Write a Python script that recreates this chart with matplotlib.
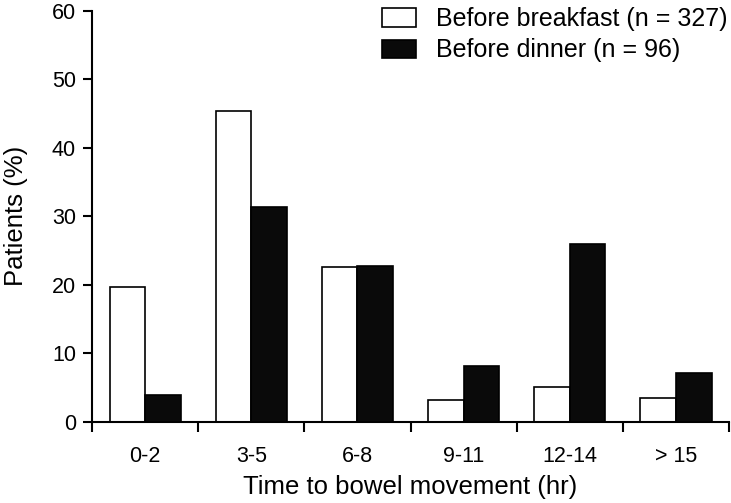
import numpy as np
import matplotlib
matplotlib.use("Agg")
import matplotlib.pyplot as plt
from matplotlib.patches import Patch

plt.rcParams['font.family'] = ['Liberation Sans', 'DejaVu Sans']

# data
groups = ['0-2', '3-5', '6-8', '9-11', '12-14', '> 15']
before_breakfast = [19.7, 45.4, 22.6, 3.2, 5.1, 3.5]
before_dinner = [3.9, 31.3, 22.8, 8.2, 26.0, 7.2]
series_labels = ['Before breakfast (n = 327)', 'Before dinner (n = 96)']

fig = plt.figure(figsize=(7.31, 5.03), dpi=100)
ax = fig.add_axes([0.1259, 0.161, 0.8714, 0.8177])

x = np.arange(len(groups))
w = 0.335
ax.bar(x - w / 2, before_breakfast, w, color='white', edgecolor='black', linewidth=1.2)
ax.bar(x + w / 2, before_dinner, w, color='#0a0a0a', edgecolor='black', linewidth=1.2)

ax.set_xlim(-0.5, len(groups) - 0.5)
ax.set_ylim(0, 60)
ax.set_yticks(np.arange(0, 61, 10))

# group labels centred, tick marks between groups
ax.set_xticks(x)
ax.set_xticklabels(groups)
ax.tick_params(axis='x', which='major', length=0, pad=17, labelsize=15.5)
ax.set_xticks(np.arange(-0.5, len(groups), 1), minor=True)
ax.tick_params(axis='x', which='minor', length=7, width=1.5)
ax.tick_params(axis='y', length=6.5, width=1.5, labelsize=15.5, pad=5)

for s in ['top', 'right']:
    ax.spines[s].set_visible(False)
for s in ['left', 'bottom']:
    ax.spines[s].set_linewidth(1.5)

ax.set_xlabel('Time to bowel movement (hr)', fontsize=18.5, labelpad=6)
ax.set_ylabel('Patients (%)', fontsize=18.5, labelpad=17)

handles = [Patch(facecolor='white', edgecolor='black', linewidth=1.2),
           Patch(facecolor='#0a0a0a', edgecolor='black', linewidth=1.2)]
fig.legend(handles, series_labels, loc='upper right',
           bbox_to_anchor=(727 / 731, 1 - 7 / 503),
           frameon=False, fontsize=18, handlelength=1.36, handleheight=0.76,
           handletextpad=0.8, labelspacing=0.3, borderpad=0, borderaxespad=0)

fig.savefig('out.png', dpi=100)
